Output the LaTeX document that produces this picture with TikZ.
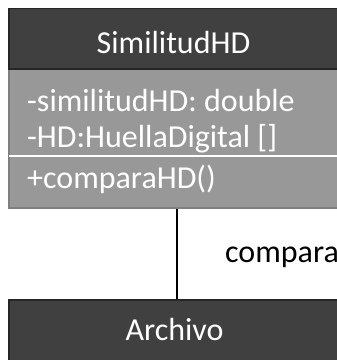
\documentclass[tikz,border=0pt]{standalone}
\usepackage{fontspec}
\setmainfont{Carlito}
\definecolor{darkfill}{HTML}{404040}
\definecolor{darkedge}{HTML}{262626}
\definecolor{grayfill}{HTML}{989898}
\definecolor{grayedge}{HTML}{7F7F7F}
\begin{document}
\begin{tikzpicture}[x=1pt,y=-1pt,
  head/.style={fill=darkfill,draw=darkedge,line width=1.5pt},
  body/.style={fill=grayfill,draw=grayedge,line width=1.5pt},
  txt/.style={font=\fontsize{32}{32}\selectfont,inner sep=0pt,anchor=base west},
  link/.style={draw=black,line width=2pt}]
\useasboundingbox (0,0) rectangle (337,360);
\clip (0,0) rectangle (337,360);
% class SimilitudHD
\path[body] (9,69) rectangle (345,208);
\path[head] (9,8.5) rectangle (345,69);
\draw[white,line width=1.5pt] (9,156) -- (345,156);
\node[txt,text=white,anchor=base] (title) at (173.5,53) {SimilitudHD};
\node[txt,text=white] (a1) at (27,111) {-similitudHD: double};
\node[txt,text=white] (a2) at (27,147) {-HD:HuellaDigital []};
\node[txt,text=white] (m1) at (27,188) {+comparaHD()};
\coordinate (top) at (177.5,208.7);
% class Archivo
\path[head] (9,300) rectangle (345,370);
\node[txt,text=white,anchor=base] (arch) at (174.5,340) {Archivo};
\coordinate (bot) at (177.5,299.3);
\path[link] (top) -- (bot);
\node[txt,text=black] (lbl) at (225,262) {compara};
\end{tikzpicture}
\end{document}
